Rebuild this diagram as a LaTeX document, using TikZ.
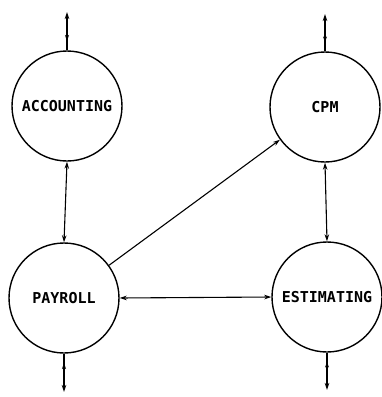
\documentclass[tikz,border=0pt]{standalone}
\usepackage{fontspec}
\newfontfamily\lblfont{DejaVu Sans Mono}
\usetikzlibrary{arrows.meta,decorations.markings}
\begin{document}
\begin{tikzpicture}[x=1pt,y=-1pt,
  proc/.style={draw,circle,line width=1.4pt,minimum size=110pt,inner sep=0pt,
    font=\lblfont\bfseries\fontsize{15}{15}\selectfont},
  link/.style={line width=1.1pt},
  both/.style={link,{Stealth[length=7pt,width=4.5pt]}-{Stealth[length=7pt,width=4.5pt]}},
  one/.style={link,-{Stealth[length=7pt,width=4.5pt]}},
  ext/.style={link,-{Stealth[length=7pt,width=4.5pt]},postaction={decorate},
    decoration={markings,mark=at position 0.4 with {\arrow{Stealth[length=6pt,width=4pt,reversed]}}}}]
\useasboundingbox (0,0) rectangle (382,397);
\node[proc] (acc) at (67,106) {ACCOUNTING};
\node[proc] (cpm) at (325,107) {CPM};
\node[proc] (pay) at (64,298) {PAYROLL};
\node[proc] (est) at (327,297) {ESTIMATING};
\coordinate (acctop) at (67,12);
\coordinate (cpmtop) at (325,14);
\coordinate (paybot) at (64,392);
\coordinate (estbot) at (327,390);
\draw[ext] (acc.north) -- (acctop);
\draw[ext] (cpm.north) -- (cpmtop);
\draw[ext] (pay.south) -- (paybot);
\draw[ext] (est.south) -- (estbot);
\draw[both] (acc.south) -- (pay.north);
\draw[both] (cpm.south) -- (est.north);
\draw[both] (pay.east) -- (est.west);
\draw[one] (pay.36) -- (cpm.216);
\end{tikzpicture}
\end{document}
